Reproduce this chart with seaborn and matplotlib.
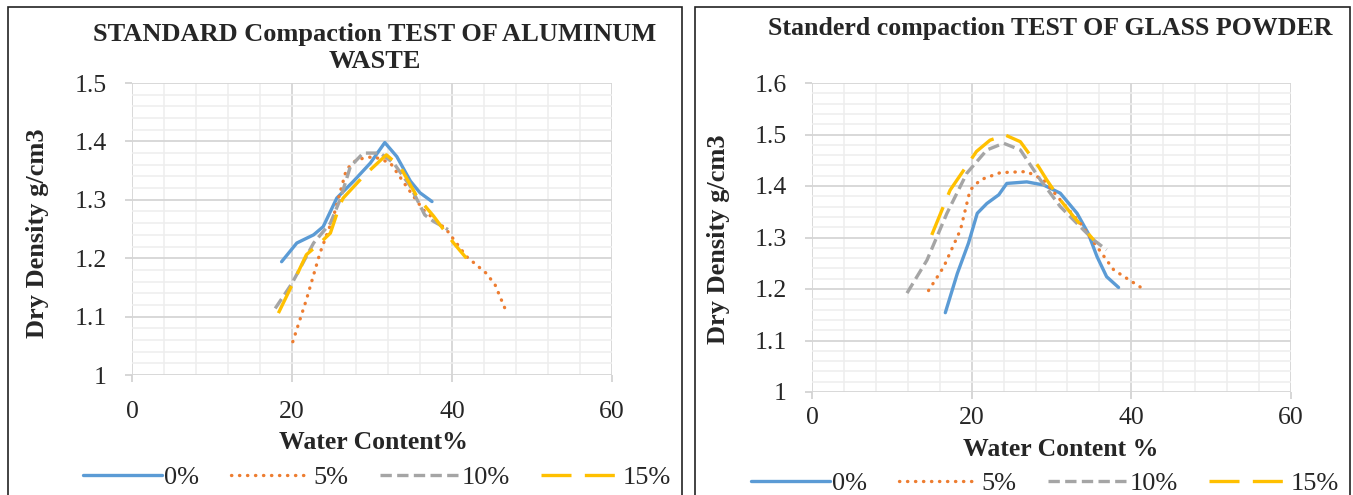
import seaborn as sns
import matplotlib.pyplot as plt
from matplotlib.patches import Rectangle
from matplotlib.ticker import MultipleLocator

# aluminum waste (left chart)
al_x_0 = [18.7, 20.6, 22.7, 23.9, 25.6, 27.7, 29.8, 31.6, 33.1, 34.8, 36.0, 37.5]
al_y_0 = [1.194, 1.226, 1.240, 1.254, 1.303, 1.332, 1.363, 1.398, 1.374, 1.332, 1.312, 1.297]
al_x_5 = [20.1, 21.8, 23.5, 25.2, 26.8, 28.1, 30.2, 32.3, 34.3, 36.4, 39.3, 41.8, 44.3, 45.4, 46.8]
al_y_5 = [1.057, 1.129, 1.209, 1.272, 1.352, 1.369, 1.374, 1.363, 1.323, 1.283, 1.249, 1.203, 1.174, 1.154, 1.108]
al_x_10 = [17.9, 20.0, 22.7, 24.8, 26.0, 27.3, 28.9, 31.0, 32.7, 34.8, 36.6, 37.7, 39.5]
al_y_10 = [1.114, 1.157, 1.226, 1.260, 1.300, 1.357, 1.380, 1.380, 1.363, 1.323, 1.274, 1.263, 1.249]
al_x_15 = [18.3, 20.0, 21.8, 23.5, 24.8, 26.0, 26.4, 28.9, 31.8, 33.5, 35.6, 37.7, 40.2, 41.8]
al_y_15 = [1.106, 1.154, 1.206, 1.226, 1.243, 1.292, 1.303, 1.340, 1.377, 1.357, 1.306, 1.272, 1.226, 1.200]

# glass powder (right chart)
gl_x_0 = [16.7, 18.2, 19.6, 20.7, 21.9, 23.4, 24.4, 26.9, 29.0, 31.1, 33.2, 34.6, 35.7, 36.9, 38.4]
gl_y_0 = [1.154, 1.230, 1.289, 1.347, 1.366, 1.383, 1.405, 1.408, 1.402, 1.386, 1.347, 1.308, 1.263, 1.224, 1.203]
gl_x_5 = [14.6, 16.5, 18.6, 19.8, 21.1, 23.6, 26.9, 29.0, 31.1, 33.6, 35.7, 37.8, 41.1]
gl_y_5 = [1.197, 1.243, 1.315, 1.392, 1.412, 1.426, 1.428, 1.412, 1.373, 1.328, 1.282, 1.237, 1.204]
gl_x_10 = [11.9, 14.4, 16.9, 19.4, 21.9, 24.0, 26.1, 28.6, 31.1, 33.6, 35.3, 36.9]
gl_y_10 = [1.192, 1.256, 1.347, 1.425, 1.470, 1.483, 1.470, 1.412, 1.360, 1.321, 1.295, 1.276]
gl_x_15 = [15.0, 17.3, 20.6, 22.3, 24.2, 26.1, 28.4, 29.4, 31.1, 32.8, 35.3]
gl_y_15 = [1.305, 1.392, 1.467, 1.489, 1.499, 1.486, 1.437, 1.412, 1.373, 1.340, 1.295]

labels = ['0%', '5%', '10%', '15%']
colors = ['#5B9BD5', '#ED7D31', '#A5A5A5', '#FFC000']
styles = ['-', (0, (0.1, 2.3)), (0, (3.4, 1.6)), (0, (9, 4))]

sns.set_style('white')
plt.rcParams['font.family'] = ['Liberation Serif', 'DejaVu Serif']

fig = plt.figure(figsize=(13.53, 4.95), dpi=100)
ax1 = fig.add_axes([132/1353, 1 - 375/495, 480/1353, 292/495])
ax2 = fig.add_axes([812/1353, 1 - 392/495, 479/1353, 309/495])

# panel frames
fig.patches.append(Rectangle((8/1353, -0.05), 674/1353, 1 - 7/495 + 0.05, transform=fig.transFigure,
                             fill=False, edgecolor='#222222', lw=1.2))
fig.patches.append(Rectangle((695/1353, -0.05), 655/1353, 1 - 7/495 + 0.05, transform=fig.transFigure,
                             fill=False, edgecolor='#222222', lw=1.2))


def draw(ax, xs, ys, ylim, xpad):
    for x, y, lab, c, ls in zip(xs, ys, labels, colors, styles):
        capstyle = 'round' if lab == '5%' else 'butt'
        sns.lineplot(x=x, y=y, ax=ax, color=c, lw=2.4, linestyle=ls, label=lab,
                     sort=False, estimator=None, solid_capstyle='round',
                     dash_capstyle=capstyle)
    ax.set_xlim(0, 60)
    ax.set_ylim(*ylim)
    ax.xaxis.set_major_locator(MultipleLocator(20))
    ax.xaxis.set_minor_locator(MultipleLocator(4))
    ax.yaxis.set_major_locator(MultipleLocator(0.1))
    ax.yaxis.set_minor_locator(MultipleLocator(0.02))
    ax.yaxis.set_major_formatter(lambda v, p: ('%.1f' % v).rstrip('0').rstrip('.'))
    ax.grid(which='major', color='#d6d6d6', lw=1.3)
    ax.grid(which='minor', color='#eeeeee', lw=1.1)
    ax.set_axisbelow(True)
    for s in ax.spines.values():
        s.set_visible(False)
    ax.tick_params(axis='both', which='major', labelsize=18.5, length=5, color='#d0d0d0', width=1.2)
    ax.tick_params(axis='y', which='major', pad=13, left=True)
    ax.tick_params(axis='x', which='major', pad=xpad, bottom=True)
    ax.tick_params(which='minor', length=0)
    ax.get_legend().remove()


draw(ax1, [al_x_0, al_x_5, al_x_10, al_x_15], [al_y_0, al_y_5, al_y_10, al_y_15], (1, 1.5), 14)
draw(ax2, [gl_x_0, gl_x_5, gl_x_10, gl_x_15], [gl_y_0, gl_y_5, gl_y_10, gl_y_15], (1, 1.6), 6)

ax1.set_xlabel('Water Content%', fontsize=18.5, fontweight='bold', va='center')
ax2.set_xlabel('Water Content %', fontsize=18.5, fontweight='bold', va='center')
ax1.xaxis.set_label_coords(0.502, -0.232)
ax2.xaxis.set_label_coords(0.52, -0.185)
ax1.set_ylabel('Dry Density g/cm3', fontsize=19, fontweight='bold', va='center')
ax2.set_ylabel('Dry Density g/cm3', fontsize=19, fontweight='bold', va='center')
ax1.yaxis.set_label_coords(-0.196, 0.486)
ax2.yaxis.set_label_coords(-0.196, 0.495)

fig.text(375/1353, 1 - 48/495, 'STANDARD Compaction TEST OF ALUMINUM\nWASTE', ha='center', va='center',
         fontsize=19, fontweight='bold', linespacing=1.25)
fig.text(1050/1353, 1 - 28/495, 'Standerd compaction TEST OF GLASS POWDER', ha='center', va='center',
         fontsize=18.6, fontweight='bold')

for ax, cx, cy in [(ax1, 377, 477), (ax2, 1045, 483)]:
    h, l = ax.get_legend_handles_labels()
    fig.legend(h, l, loc='center', bbox_to_anchor=(cx/1353, 1 - cy/495), ncol=4, frameon=False,
               fontsize=19, handlelength=3.0, handletextpad=0.1, columnspacing=1.2,
               borderpad=0, borderaxespad=0)

fig.savefig('out.png', dpi=100)
